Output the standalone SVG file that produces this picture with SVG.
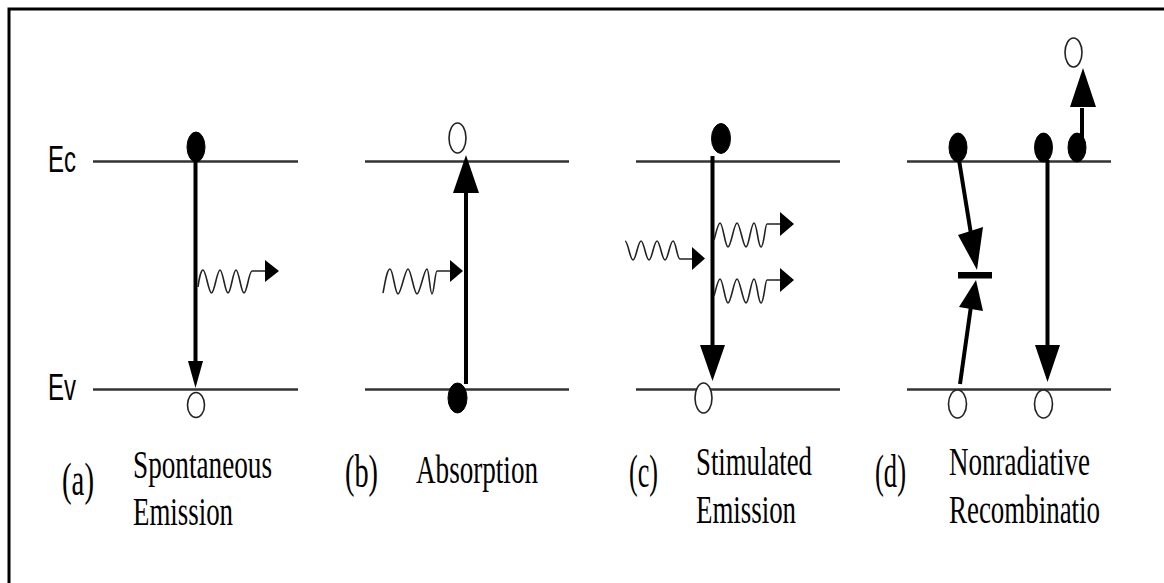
<svg xmlns="http://www.w3.org/2000/svg" width="1164" height="583" viewBox="0 0 1164 583">
<style>
.lvl{stroke:#333;stroke-width:2.4;fill:none}
.arr{stroke:#000;stroke-width:4;fill:none}
.head{fill:#000;stroke:none}
.ball{fill:#000;stroke:#000;stroke-width:1}
.hole{fill:#fff;stroke:#222;stroke-width:1.6}
.wave{fill:none;stroke:#222;stroke-width:1.6}
.serif{font-family:"Liberation Serif","Times New Roman",serif;font-size:40px;fill:#000}
.par{font-family:"Liberation Serif","Times New Roman",serif;font-size:46px;fill:#000}
.sans{font-family:"Liberation Sans",Arial,sans-serif;font-size:36px;fill:#000}
</style>
<defs>
<g id="photonOut">
<path class="wave" d="M714,240 C716,233 718,223 720,223 C723,223 725,247 728,247 C731,247 734,223 737,223 C740,223 743,247 746,247 C749,247 751,223 754,223 C757,223 758,247 761,247 C764,247 765,224 767,224 L781,224"/>
<polygon class="head" points="780,212 794,224 780,236"/>
</g>
</defs>
<path d="M9,600 V9 H1180" fill="none" stroke="#000" stroke-width="3"/>

<g id="labels-axis">
<text class="sans" x="48" y="172" textLength="28" lengthAdjust="spacingAndGlyphs">Ec</text>
<text class="sans" x="48" y="400" textLength="28" lengthAdjust="spacingAndGlyphs">Ev</text>
</g>

<g id="levels">
<line class="lvl" x1="93" y1="161.5" x2="298" y2="161.5"/>
<line class="lvl" x1="93" y1="389.5" x2="298" y2="389.5"/>
<line class="lvl" x1="365" y1="161.5" x2="569" y2="161.5"/>
<line class="lvl" x1="365" y1="389.5" x2="569" y2="389.5"/>
<line class="lvl" x1="636" y1="161.5" x2="840" y2="161.5"/>
<line class="lvl" x1="636" y1="389.5" x2="840" y2="389.5"/>
<line class="lvl" x1="907" y1="161.5" x2="1111" y2="161.5"/>
<line class="lvl" x1="907" y1="389.5" x2="1111" y2="389.5"/>
</g>

<g id="panel-a">
<ellipse class="ball" cx="196" cy="147" rx="9" ry="15"/>
<line class="arr" x1="195.5" y1="150" x2="195.5" y2="364"/>
<polygon class="head" points="188,361 203,361 195.5,388"/>
<ellipse class="hole" cx="196" cy="405" rx="8.5" ry="12.5"/>
<path class="wave" d="M198,287 C199,279 201,270 203,270 C206,270 208.5,293 211.5,293 C214.5,293 217,270 220,270 C223,270 225,293 228,293 C231,293 233,270 236,270 C239,270 241,293 244,293 C247,293 249,271 252,271 L266,271"/>
<polygon class="head" points="265,260 279,271 265,282"/>
<text class="par" x="62" y="495" textLength="32" lengthAdjust="spacingAndGlyphs">(a)</text>
<text class="serif" x="133" y="478" textLength="139" lengthAdjust="spacingAndGlyphs">Spontaneous</text>
<text class="serif" x="133" y="525" textLength="100" lengthAdjust="spacingAndGlyphs">Emission</text>
</g>

<g id="panel-b">
<ellipse class="hole" cx="457.5" cy="138" rx="8.5" ry="15"/>
<line class="arr" x1="466" y1="384" x2="466" y2="190"/>
<polygon class="head" points="453,193 479,193 466,155"/>
<ellipse class="ball" cx="457.5" cy="398" rx="9.5" ry="15"/>
<path class="wave" d="M383,293 C385,283 387,269 390,269 C393,269 395,294 398,294 C401,294 405,269 408,269 C411,269 414,294 417,294 C420,294 424,269 427,269 C429,269 430,294 432,294 C434,294 435,271 437,271 L452,271"/>
<polygon class="head" points="450,260 463,271 450,282"/>
<text class="par" x="345" y="487" textLength="33" lengthAdjust="spacingAndGlyphs">(b)</text>
<text class="serif" x="416" y="483" textLength="122" lengthAdjust="spacingAndGlyphs">Absorption</text>
</g>

<g id="panel-c">
<ellipse class="ball" cx="721" cy="138.5" rx="9.5" ry="15"/>
<line class="arr" x1="712.5" y1="156" x2="712.5" y2="348"/>
<polygon class="head" points="700,345 725,345 712.5,381"/>
<ellipse class="hole" cx="703.5" cy="398" rx="8.5" ry="15"/>
<path class="wave" d="M625,241 C628,241 630,260 633,260 C636,260 638,241 641,241 C644,241 646,260 649,260 C652,260 654,241 657,241 C660,241 662,260 665,260 C668,260 670,241 673,241 C676,241 677,259 680,259 L694,259"/>
<polygon class="head" points="692,247 705,258.5 692,270"/>
<use href="#photonOut"/>
<use href="#photonOut" transform="translate(0,56)"/>
<text class="par" x="629" y="487" textLength="29" lengthAdjust="spacingAndGlyphs">(c)</text>
<text class="serif" x="696" y="475" textLength="116" lengthAdjust="spacingAndGlyphs">Stimulated</text>
<text class="serif" x="696" y="523" textLength="100" lengthAdjust="spacingAndGlyphs">Emission</text>
</g>

<g id="panel-d">
<ellipse class="ball" cx="958" cy="147.5" rx="9" ry="14.5"/>
<ellipse class="ball" cx="1043.5" cy="147.5" rx="9" ry="14.5"/>
<ellipse class="ball" cx="1077" cy="147.5" rx="9" ry="14.5"/>
<ellipse class="hole" cx="1073.5" cy="52.5" rx="8.5" ry="14.5"/>
<line class="arr" x1="1082" y1="140" x2="1082" y2="108"/>
<polygon class="head" points="1070,107 1096,107 1083,68"/>
<line class="arr" x1="1047.5" y1="160" x2="1047.5" y2="348"/>
<polygon class="head" points="1035,345 1060,345 1047.5,382"/>
<line class="arr" x1="959" y1="160" x2="971" y2="234"/>
<polygon class="head" points="958,235 983,227 977,270"/>
<rect x="958" y="272" width="34" height="6.5" fill="#000"/>
<polygon class="head" points="976,280 959,307 983,311"/>
<line class="arr" x1="971" y1="306" x2="960" y2="384"/>
<ellipse class="hole" cx="957.5" cy="404" rx="9" ry="14"/>
<ellipse class="hole" cx="1043.5" cy="404" rx="9" ry="14"/>
<text class="par" x="875" y="487" textLength="31" lengthAdjust="spacingAndGlyphs">(d)</text>
<text class="serif" x="949" y="475" textLength="141" lengthAdjust="spacingAndGlyphs">Nonradiative</text>
<text class="serif" x="949" y="523" textLength="151" lengthAdjust="spacingAndGlyphs">Recombinatio</text>
</g>
</svg>
